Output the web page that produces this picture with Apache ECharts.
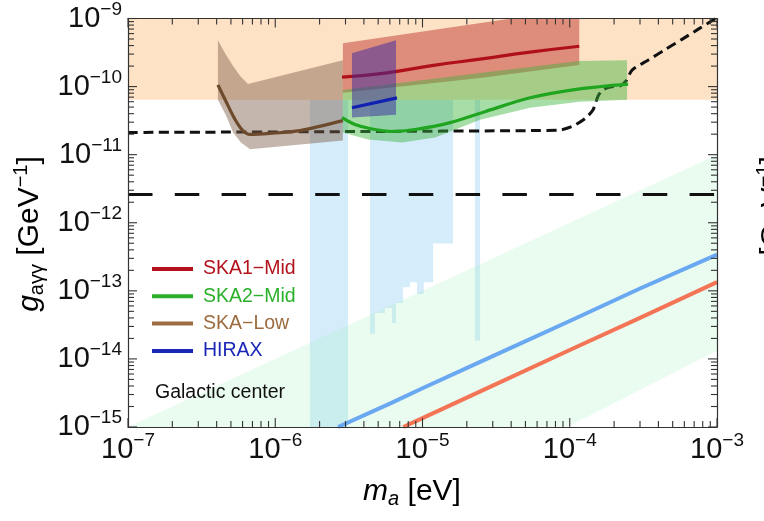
<!DOCTYPE html>
<html>
<head>
<meta charset="utf-8">
<script src="https://cdn.jsdelivr.net/npm/echarts@6/dist/echarts.min.js"></script>
<style>
  html, body { margin: 0; padding: 0; background: #ffffff; }
  #chart { width: 764px; height: 521px; }
</style>
</head>
<body>
<div id="chart"></div>
<script>
// ---- axes: decades on both log axes ----
const xMajor = [1e-7, 1e-6, 1e-5, 1e-4, 1e-3];
const xExponents = [-7, -6, -5, -4, -3];
const yMajor = [1e-15, 1e-14, 1e-13, 1e-12, 1e-11, 1e-10, 1e-9];
const yExponents = [-15, -14, -13, -12, -11, -10, -9];

// ---- excluded regions ----
// astrophysical bound across the whole mass range
const astroBandX = [1e-7, 1e-3];
const astroBandY = [6.4e-11, 1e-9];
// haloscope exclusions
const haloStripX = [1.72e-6, 3.12e-6];
const haloStepX = [4.40e-6, 4.75e-6, 5.56e-6, 6.21e-6, 6.61e-6, 7.38e-6, 8.23e-6, 9.18e-6, 1.02e-5, 1.18e-5, 1.61e-5];
const haloStepBottom = [2.34e-14, 4.73e-14, 5.6e-14, 3.38e-14, 6.6e-14, 1.13e-13, 1.34e-13, 8.95e-14, 1.34e-13, 4.94e-13];
const haloSpikeX = [2.27e-5, 2.46e-5];
const haloSpikeBottom = 1.85e-14;
const haloTop = 6.4e-11;

// Galactic center band
const gcBand = [[1e-7, 1e-15], [1e-3, 1e-11], [1e-3, 1.32e-14], [9.6e-5, 1e-15]];

// QCD-like lines
const lineBlue = [[2.67e-6, 1e-15], [6e-6, 2.2e-15], [1e-5, 3.7e-15], [3e-5, 1.1e-14], [1e-4, 3.6e-14], [3e-4, 1.08e-13], [1e-3, 3.4e-13]];
const lineOrange = [[7.4e-6, 1e-15], [1e-5, 1.35e-15], [3e-5, 4.05e-15], [1e-4, 1.35e-14], [3e-4, 4.0e-14], [1e-3, 1.34e-13]];

// helioscope limit (short dashes) and long-dashed reference level
const castLimit = [[1e-7, 2.12e-11], [3e-6, 2.18e-11], [6.28e-5, 2.26e-11], [8.32e-5, 2.28e-11], [1.035e-4, 2.59e-11],
  [1.27e-4, 3.38e-11], [1.44e-4, 4.57e-11], [1.56e-4, 7.31e-11], [1.68e-4, 8.93e-11], [1.88e-4, 9.88e-11],
  [2.19e-4, 1.02e-10], [2.41e-4, 1.21e-10], [2.65e-4, 1.75e-10], [3.40e-4, 2.44e-10], [4.43e-4, 3.48e-10],
  [5.78e-4, 4.94e-10], [7.42e-4, 6.92e-10], [1e-3, 1.03e-9]];
const longDashLevel = 2.6e-12;

// ---- sensitivity forecasts ----
const skaLowUpper = [[4.08e-7, 4.78e-10], [4.56e-7, 3.09e-10], [5.17e-7, 2.0e-10], [5.77e-7, 1.43e-10], [6.53e-7, 1.09e-10], [2.88e-6, 2.44e-10]];
const skaLowLower = [[4.08e-7, 6.4e-11], [4.64e-7, 3.74e-11], [5.17e-7, 2.11e-11], [5.85e-7, 1.51e-11], [6.74e-7, 1.20e-11], [2.88e-6, 1.62e-11]];
const skaLowLine = [[4.08e-7, 1.06e-10], [4.64e-7, 5.98e-11], [5.25e-7, 3.5e-11], [5.94e-7, 2.34e-11], [6.74e-7, 1.98e-11],
  [9.2e-7, 2.05e-11], [1.47e-6, 2.26e-11], [2.88e-6, 3.16e-11]];

const ska1Upper = [[2.88e-6, 4.33e-10], [1.16e-4, 1.4e-9]];
const ska1Lower = [[2.88e-6, 8.1e-11], [2.46e-5, 1.34e-10], [1.16e-4, 2.07e-10]];
const ska1Line = [[2.84e-6, 1.38e-10], [5.56e-6, 1.58e-10], [1.22e-5, 2.07e-10], [2.46e-5, 2.53e-10], [5.37e-5, 3.2e-10], [1.16e-4, 3.91e-10]];

const ska2Upper = [[2.88e-6, 8.9e-11], [2.46e-5, 1.58e-10], [1.16e-4, 2.37e-10], [2.45e-4, 2.44e-10]];
const ska2Lower = [[2.88e-6, 2.11e-11], [4.27e-6, 1.67e-11], [7.26e-6, 1.51e-11], [1.22e-5, 1.79e-11], [2.46e-5, 3.27e-11],
  [5.37e-5, 4.89e-11], [1.17e-4, 5.98e-11], [2.45e-4, 6.4e-11]];
const ska2Line = [[2.84e-6, 3.5e-11], [3.48e-6, 2.77e-11], [4.40e-6, 2.42e-11], [6.21e-6, 2.19e-11], [8.89e-6, 2.34e-11],
  [1.54e-5, 2.96e-11], [2.65e-5, 4.28e-11], [5.37e-5, 6.84e-11], [1.17e-4, 9.25e-11], [2.49e-4, 1.09e-10]];

const hiraxUpper = [[3.32e-6, 3.09e-10], [6.61e-6, 4.78e-10]];
const hiraxLower = [[3.32e-6, 3.5e-11], [6.61e-6, 3.87e-11]];
const hiraxLine = [[3.32e-6, 4.89e-11], [6.71e-6, 6.84e-11]];

// legend entries
const legendNames = ['SKA1\u2212Mid', 'SKA2\u2212Mid', 'SKA\u2212Low', 'HIRAX'];
const legendColors = ['#b3121c', '#2bb02b', '#9c6c40', '#1a26b6'];

// ---- helpers ----
const FONT = '"Liberation Sans", Arial, Helvetica, sans-serif';

function rect(x, y) {
  return [[x[0], y[0]], [x[1], y[0]], [x[1], y[1]], [x[0], y[1]]];
}
function band(upper, lower) {
  return upper.concat(lower.slice().reverse());
}
function stairs(xs, bottoms, top) {
  const pts = [[xs[0], top], [xs[xs.length - 1], top]];
  for (let i = bottoms.length - 1; i >= 0; i--) {
    pts.push([xs[i + 1], bottoms[i]]);
    pts.push([xs[i], bottoms[i]]);
  }
  return pts;
}
function polySeries(name, pts, fill, z) {
  return {
    type: 'custom', name: name, coordinateSystem: 'cartesian2d',
    data: pts, encode: { x: 0, y: 1 }, clip: true, silent: true, z: z,
    renderItem: function (params, api) {
      if (params.dataIndex !== 0) return null;
      return {
        type: 'polygon',
        shape: { points: pts.map(function (p) { return api.coord(p); }) },
        style: { fill: fill }
      };
    }
  };
}
function lineSeries(name, pts, color, width, z, dash, smooth) {
  return {
    type: 'line', name: name, data: pts, showSymbol: false, silent: true, z: z,
    smooth: smooth || false,
    lineStyle: { color: color, width: width, type: dash || 'solid', cap: 'butt', join: 'round' }
  };
}
function minorOf(majors) {
  const out = [];
  for (let i = 0; i < majors.length - 1; i++) {
    for (let k = 2; k <= 9; k++) out.push(k * majors[i]);
  }
  return out;
}
// ticks on all four sides, drawn inward
function tickSeries(values, onX, len) {
  return {
    type: 'custom', coordinateSystem: 'cartesian2d', silent: true, z: 20, clip: false,
    data: values.map(function (v) { return onX ? [v, 1e-12] : [1e-5, v]; }),
    encode: { x: 0, y: 1 },
    renderItem: function (params, api) {
      const cs = params.coordSys;
      const p = api.coord([api.value(0), api.value(1)]);
      const st = { stroke: '#333', lineWidth: 1.1 };
      if (onX) {
        return { type: 'group', children: [
          { type: 'line', shape: { x1: p[0], y1: cs.y + cs.height, x2: p[0], y2: cs.y + cs.height - len }, style: st },
          { type: 'line', shape: { x1: p[0], y1: cs.y, x2: p[0], y2: cs.y + len }, style: st }
        ] };
      }
      return { type: 'group', children: [
        { type: 'line', shape: { x1: cs.x, y1: p[1], x2: cs.x + len, y2: p[1] }, style: st },
        { type: 'line', shape: { x1: cs.x + cs.width, y1: p[1], x2: cs.x + cs.width - len, y2: p[1] }, style: st }
      ] };
    }
  };
}
function powLabel(exps, majors) {
  return function (v) {
    let best = 0;
    for (let i = 0; i < majors.length; i++) {
      if (Math.abs(Math.log10(v) - Math.log10(majors[i])) < Math.abs(Math.log10(v) - Math.log10(majors[best]))) best = i;
    }
    return '{b|10}{s|\u2212' + Math.abs(exps[best]) + '}';
  };
}
const labelRich = {
  b: { fontSize: 29, fontFamily: FONT, color: '#111' },
  s: { fontSize: 19, fontFamily: FONT, color: '#111', padding: [0, 0, 18, 0] }
};

const chart = echarts.init(document.getElementById('chart'), null, { renderer: 'canvas' });

const axisLine = { show: true, lineStyle: { color: '#333', width: 1.2 } };
const option = {
  animation: false,
  backgroundColor: '#ffffff',
  grid: { left: 128, top: 15, width: 589, height: 412, containLabel: false },
  xAxis: [
    { type: 'log', logBase: 10, min: 1e-7, max: 1e-3, interval: 1, z: 20,
      axisLine: axisLine, axisTick: { show: false }, splitLine: { show: false },
      axisLabel: { margin: 4, formatter: powLabel(xExponents, xMajor), rich: labelRich } },
    { type: 'log', logBase: 10, min: 1e-7, max: 1e-3, interval: 1, position: 'top', z: 20,
      axisLine: axisLine, axisTick: { show: false }, splitLine: { show: false }, axisLabel: { show: false } }
  ],
  yAxis: [
    { type: 'log', logBase: 10, min: 1e-15, max: 1e-9, interval: 1, z: 20,
      axisLine: axisLine, axisTick: { show: false }, splitLine: { show: false },
      axisLabel: { margin: 6, formatter: powLabel(yExponents, yMajor), rich: labelRich } },
    { type: 'log', logBase: 10, min: 1e-15, max: 1e-9, interval: 1, position: 'right', z: 20,
      axisLine: axisLine, axisTick: { show: false }, splitLine: { show: false }, axisLabel: { show: false } }
  ],
  series: [
    polySeries('haloStrip', rect(haloStripX, [1e-15, haloTop]), '#d5ecfb', 1),
    polySeries('haloSteps', stairs(haloStepX, haloStepBottom, haloTop), '#d5ecfb', 1),
    polySeries('haloSpike', rect(haloSpikeX, [haloSpikeBottom, haloTop]), '#d5ecfb', 1),
    polySeries('galacticCenter', gcBand, 'rgba(170,240,195,0.25)', 2),
    polySeries('astroBound', rect(astroBandX, astroBandY), '#fde2c6', 3),
    lineSeries('qcdBlue', lineBlue, '#6aa8f2', 4, 4),
    lineSeries('qcdOrange', lineOrange, '#f47456', 4, 4),
    lineSeries('longDash', [[1e-7, longDashLevel], [1e-3, longDashLevel]], '#111', 3, 4, [24.5, 22.3]),
    lineSeries('cast', castLimit, '#111', 3, 4, [10, 5.5], 0.25),
    polySeries('skaLowBand', band(skaLowUpper, skaLowLower), 'rgba(124,93,71,0.45)', 5),
    lineSeries('SKA-Low', skaLowLine, '#6e4a2c', 3.2, 6, null, 0.3),
    polySeries('ska1Band', band(ska1Upper, ska1Lower), 'rgba(191,55,45,0.5)', 5),
    lineSeries('SKA1-Mid', ska1Line, '#b0101a', 3.2, 6, null, 0.5),
    polySeries('ska2Band', band(ska2Upper, ska2Lower), 'rgba(60,180,60,0.45)', 7),
    lineSeries('SKA2-Mid', ska2Line, '#1fa51f', 3.2, 8, null, 0.3),
    polySeries('hiraxBand', band(hiraxUpper, hiraxLower), 'rgba(58,40,160,0.5)', 9),
    lineSeries('HIRAX', hiraxLine, '#1020b0', 3.2, 10),
    tickSeries(xMajor, true, 9),
    tickSeries(minorOf(xMajor), true, 6),
    tickSeries(yMajor, false, 9),
    tickSeries(minorOf(yMajor), false, 6)
  ],
  graphic: []
};

// legend block
const legendTop = 269, legendStep = 27.3;
legendNames.forEach(function (name, i) {
  const y = legendTop + i * legendStep;
  option.graphic.push({ type: 'line', z: 30, silent: true,
    shape: { x1: 152, y1: y, x2: 193, y2: y }, style: { stroke: legendColors[i], lineWidth: 4 } });
  option.graphic.push({ type: 'text', z: 30, silent: true, x: 203, y: y,
    style: { text: name, fill: legendColors[i], fontSize: 19.5, fontFamily: FONT, align: 'left', verticalAlign: 'middle' } });
});
option.graphic.push({ type: 'text', z: 30, silent: true, x: 155, y: 393,
  style: { text: 'Galactic center', fill: '#111', fontSize: 19.5, fontFamily: FONT, align: 'left', verticalAlign: 'middle' } });

// axis titles
const titleRich = {
  i: { fontSize: 30, fontFamily: FONT, fontStyle: 'italic', color: '#111' },
  n: { fontSize: 30, fontFamily: FONT, color: '#111' },
  sub: { fontSize: 20, fontFamily: FONT, color: '#111', padding: [14, 0, 0, 0] },
  subi: { fontSize: 20, fontFamily: FONT, fontStyle: 'italic', color: '#111', padding: [14, 0, 0, 0] },
  sup: { fontSize: 20, fontFamily: FONT, color: '#111', padding: [0, 0, 18, 0] }
};
option.graphic.push({ type: 'text', z: 30, silent: true, x: 412, y: 492,
  style: { text: '{i|m}{subi|a}{n| [eV]}', rich: titleRich, align: 'center', verticalAlign: 'middle' } });
const yTitle = '{i|g}{sub|a\u03b3\u03b3}{n| [GeV}{sup|\u22121}{n|]}';
option.graphic.push({ type: 'text', z: 30, silent: true, x: 30, y: 234, rotation: Math.PI / 2,
  style: { text: yTitle, rich: titleRich, align: 'center', verticalAlign: 'middle' } });
// neighbouring panel's axis title, cut by the page edge
option.graphic.push({ type: 'text', z: 30, silent: true, x: 773, y: 234, rotation: Math.PI / 2,
  style: { text: yTitle, rich: titleRich, align: 'center', verticalAlign: 'middle' } });

chart.setOption(option);
</script>
</body>
</html>
